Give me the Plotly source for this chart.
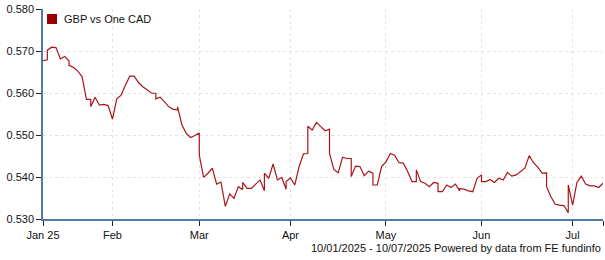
import pandas as pd
import plotly.graph_objects as go

series_name = "GBP vs One CAD"
footer_text = "10/01/2025 - 10/07/2025 Powered by data from FE fundinfo"

start_date = "2025-01-10"
end_date = "2025-07-10"

# values per trading day; a nested list means several readings on the same day
jan = [0.5677, [0.5679, 0.5702], 0.5709, 0.5708, 0.5681, 0.5687, [0.5676, 0.5666], 0.5661,
       0.5652, 0.5639, 0.5585, [0.5585, 0.5567], 0.5590, 0.5571, 0.5573, 0.5570]
feb = [0.5538, 0.5586, 0.5595, 0.5619, 0.5640, 0.5640, 0.5625, 0.5615, 0.5607, 0.5600,
       [0.5599, 0.5586], 0.5590, 0.5579, 0.5567, 0.5561, [0.5560, 0.5567], 0.5524, 0.5504,
       0.5494, 0.5499]
mar = [[0.5505, 0.5452], 0.5399, 0.5409, 0.5421, 0.5383, 0.5388, 0.5330, 0.5360, 0.5349,
       0.5377, [0.5370, 0.5387], 0.5373, 0.5373, 0.5383, 0.5393, [0.5367, 0.5409], 0.5397,
       0.5431, 0.5393, 0.5399, [0.5371, 0.5389]]
apr = [0.5398, 0.5381, 0.5425, 0.5455, [0.5456, 0.5521], 0.5512, 0.5530, 0.5520, 0.5510,
       [0.5514, 0.5456], 0.5418, 0.5410, 0.5447, 0.5444, [0.5444, 0.5401], 0.5426, 0.5425,
       0.5403, 0.5414, [0.5409, 0.5381], 0.5381, 0.5425]
may = [0.5436, 0.5456, 0.5452, 0.5434, 0.5433, 0.5413, 0.5389, [0.5389, 0.5417], 0.5389,
       0.5385, 0.5377, 0.5387, [0.5385, 0.5365], 0.5365, 0.5381, 0.5375, 0.5383,
       [0.5367, 0.5372], 0.5371, 0.5367, 0.5365, 0.5397]
jun = [[0.5405, 0.5389], 0.5389, 0.5394, 0.5387, 0.5397, 0.5393, 0.5411, 0.5402, 0.5405,
       0.5413, 0.5421, 0.5451, 0.5434, 0.5423, 0.5409, [0.5410, 0.5377], 0.5353, 0.5335,
       0.5333, 0.5332, [0.5315, 0.5381]]
jul = [0.5333, 0.5387, 0.5402, 0.5383, 0.5379, 0.5379, 0.5375, 0.5385]

tick_vals = ["2025-01-10", "2025-02-03", "2025-03-03", "2025-04-01", "2025-05-01",
             "2025-06-02", "2025-07-01", "2025-07-10"]
tick_text = ["Jan 25", "Feb", "Mar", "Apr", "May", "Jun", "Jul", ""]
y_ticks = [0.530, 0.540, 0.550, 0.560, 0.570, 0.580]

days = pd.bdate_range(start_date, end_date)
values = jan + feb + mar + apr + may + jun + jul
assert len(days) == len(values), (len(days), len(values))

xs, ys = [], []
for d, v in zip(days, values):
    for val in (v if isinstance(v, list) else [v]):
        xs.append(d)
        ys.append(val)

FONT = "Liberation Sans, Arial, sans-serif"
AXIS_COL = "#4f79a6"
GRID_COL = "#e4e4e4"

fig = go.Figure()
fig.add_trace(go.Scatter(x=xs, y=ys, mode="lines", name=series_name, showlegend=False,
                         line=dict(color="#a8161c", width=1.2)))

fig.update_layout(
    width=605, height=260,
    margin=dict(l=43, r=2, t=9, b=41),
    paper_bgcolor="white", plot_bgcolor="white",
    font=dict(family=FONT, size=11, color="#111"),
    showlegend=False,
)
fig.update_xaxes(
    type="date",
    range=[start_date, end_date],
    rangebreaks=[dict(bounds=["sat", "mon"])],
    tickmode="array", tickvals=tick_vals, ticktext=tick_text,
    showgrid=True, gridcolor=GRID_COL, griddash="3px,3px", gridwidth=1,
    showline=True, linecolor=AXIS_COL, linewidth=1.5,
    ticks="outside", ticklen=5, tickcolor="#222", tickwidth=1,
    tickfont=dict(family=FONT, size=11, color="#111"),
    zeroline=False,
)
fig.update_yaxes(
    range=[0.530, 0.580],
    tickmode="array", tickvals=y_ticks, tickformat=".3f",
    showgrid=True, gridcolor=GRID_COL, griddash="3px,3px", gridwidth=1,
    showline=True, linecolor=AXIS_COL, linewidth=1.5,
    ticks="outside", ticklen=5, tickcolor="#222", tickwidth=1,
    tickfont=dict(family=FONT, size=11, color="#111"),
    zeroline=False,
)

# legend-like marker and label
fig.add_shape(type="rect", xref="paper", yref="paper",
              x0=4 / 560, x1=14 / 560, y0=(219 - 24) / 210, y1=(219 - 14) / 210,
              fillcolor="#990000", line=dict(color="#990000", width=0))
fig.add_annotation(text=series_name, xref="paper", yref="paper",
                   x=19 / 560, y=(219 - 19) / 210, xanchor="left", yanchor="middle",
                   showarrow=False, font=dict(family=FONT, size=11, color="#111"))
fig.add_annotation(text=footer_text, xref="paper", yref="paper",
                   x=1.0, y=(219 - 248) / 210, xanchor="right", yanchor="middle",
                   showarrow=False, font=dict(family=FONT, size=11, color="#111"))

fig.write_html("out.html")
